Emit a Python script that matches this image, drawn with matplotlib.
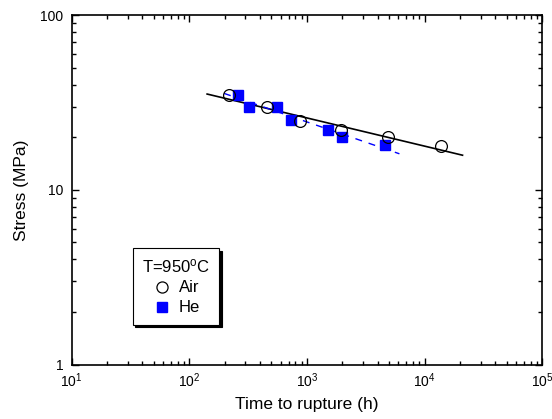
import matplotlib
matplotlib.use("Agg")
import matplotlib.pyplot as plt
from matplotlib.lines import Line2D

plt.rcParams['font.family'] = ['Liberation Sans', 'DejaVu Sans']
plt.rcParams['mathtext.fontset'] = 'custom'
plt.rcParams['mathtext.rm'] = 'Liberation Sans'
plt.rcParams['mathtext.it'] = 'Liberation Sans:italic'

# Data
air_time = [218, 458, 873, 1940, 4850, 13700]
air_stress = [34.9, 29.8, 24.8, 22.0, 20.1, 17.8]
he_time = [260, 322, 557, 731, 1507, 1980, 4580]
he_stress = [35.0, 30.0, 30.0, 25.0, 22.0, 20.0, 18.0]
air_fit_time = [142, 21000]
air_fit_stress = [35.4, 15.8]
he_fit_time = [198, 6110]
he_fit_stress = [35.7, 16.1]

fig = plt.figure(figsize=(5.52, 4.19), dpi=100)
ax = fig.add_axes([71.5/552, 1 - 364.5/419, (542.3 - 71.5)/552, (364.5 - 15.3)/419])

ax.plot(air_fit_time, air_fit_stress, color='black', lw=1.2, zorder=2)
ax.plot(he_fit_time, he_fit_stress, color='blue', lw=1.0, ls=(0, (5, 5)), zorder=2)
ax.plot(he_time, he_stress, ls='none', marker='s', ms=7.5, mfc='blue', mec='blue', zorder=3)
ax.plot(air_time, air_stress, ls='none', marker='o', ms=8.5, mfc='none', mec='black', mew=0.9, zorder=4)

ax.set_xscale('log')
ax.set_yscale('log')
ax.set_xlim(10, 1e5)
ax.set_ylim(1, 100)
ax.set_yticks([1, 10, 100])
ax.set_yticklabels(['1', '10', '100'])
ax.tick_params(which='both', direction='in', top=True, right=True, labelsize=10, width=1)
ax.tick_params(axis='y', which='major', pad=6)
ax.tick_params(axis='x', which='major', pad=5)
ax.tick_params(which='major', length=5)
ax.tick_params(which='minor', length=3)
for s in ax.spines.values():
    s.set_linewidth(1.2)

ax.set_xlabel('Time to rupture (h)', fontsize=12.5, labelpad=5)
ax.set_ylabel('Stress (MPa)', fontsize=12.5, labelpad=8)

handles = [
    Line2D([], [], ls='none', marker='o', ms=8, mfc='none', mec='black', mew=0.9),
    Line2D([], [], ls='none', marker='s', ms=7, mfc='blue', mec='blue'),
]
leg = ax.legend(handles, ['Air', 'He'], title=r'T=950$^{\mathrm{o}}$C',
                loc='upper left', bbox_to_anchor=((132.7 - 71.5) / 470.8, 1 - (248.3 - 15.3) / 349.2),
                frameon=True, fancybox=False, shadow={'color': 'black', 'alpha': 1},
                edgecolor='black', framealpha=1, fontsize=12, title_fontsize=12,
                handletextpad=0.4, handlelength=1.2, borderpad=0.55, labelspacing=0.3,
                borderaxespad=0)
leg.get_frame().set_linewidth(0.8)

fig.savefig('out.png', dpi=100)
